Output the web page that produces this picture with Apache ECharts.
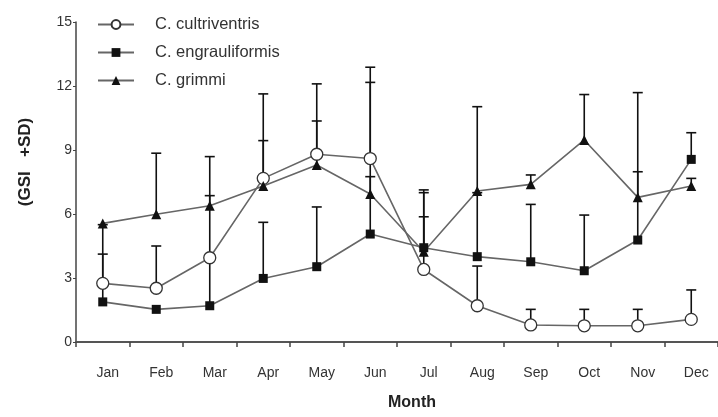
<!DOCTYPE html>
<html><head><meta charset="utf-8">
<script src="https://cdn.jsdelivr.net/npm/echarts@6/dist/echarts.min.js"></script>
<style>html,body{margin:0;padding:0;background:#fff}#c{width:718px;height:417px}</style>
</head><body><div id="c"></div>
<script>
const months = ['Jan','Feb','Mar','Apr','May','Jun','Jul','Aug','Sep','Oct','Nov','Dec'];
const yTicks = [0, 3, 6, 9, 12, 15];
const cultri      = [2.75, 2.52, 3.95, 7.67, 8.8, 8.6, 3.4, 1.7, 0.8, 0.76, 0.76, 1.06];
const cultriUpper = [4.12, 4.5, 6.86, 11.63, 12.1, 12.88, 5.87, 3.56, 1.53, 1.53, 1.53, 2.44];
const engr        = [1.88, 1.53, 1.7, 2.98, 3.53, 5.06, 4.42, 4.0, 3.76, 3.34, 4.78, 8.56];
const engrUpper   = [5.5, null, 3.9, 5.61, 6.33, 12.17, 7.13, 7.0, 6.45, 5.95, 11.69, 9.81];
const grimmi      = [5.56, 5.99, 6.39, 7.31, 8.3, 6.94, 4.23, 7.08, 7.39, 9.47, 6.78, 7.31];
const grimmiUpper = [null, 8.85, 8.69, 9.44, 10.36, 7.75, 7.0, 11.03, 7.83, 11.6, 7.98, 7.67];

const FONT = "'Liberation Sans',Arial,sans-serif";

function errData(vals, ups) {
  const out = [];
  vals.forEach((v, i) => { if (ups[i] != null) out.push([i, v, ups[i]]); });
  return out;
}
function errSeries(vals, ups) {
  return {
    type: 'custom', silent: true, z: 1,
    data: errData(vals, ups),
    renderItem: function (params, api) {
      const x = api.value(0);
      const p0 = api.coord([x, api.value(1)]);
      const p1 = api.coord([x, api.value(2)]);
      const hw = 5;
      return {
        type: 'group',
        children: [
          {type: 'line', shape: {x1: p0[0], y1: p0[1], x2: p1[0], y2: p1[1]}, style: {stroke: '#111', lineWidth: 1.6}},
          {type: 'line', shape: {x1: p1[0]-hw, y1: p1[1], x2: p1[0]+hw, y2: p1[1]}, style: {stroke: '#111', lineWidth: 1.6}}
        ]
      };
    }
  };
}

const chart = echarts.init(document.getElementById('c'));
chart.setOption({
  animation: false,
  grid: {left: 76, right: 0, top: 22, bottom: 75},
  legend: {
    orient: 'vertical', left: 92, top: 11, itemWidth: 36, itemHeight: 11, itemGap: 11,
    textStyle: {fontFamily: FONT, fontSize: 16.5, color: '#333', padding: [0, 0, 0, 16]},
    data: ['C. cultriventris', 'C. engrauliformis', 'C. grimmi']
  },
  xAxis: {
    type: 'category', data: months, boundaryGap: true,
    axisLine: {lineStyle: {color: '#555', width: 2}},
    axisTick: {show: true, length: 5, lineStyle: {color: '#444', width: 1.5}},
    axisLabel: {fontFamily: FONT, fontSize: 14, color: '#333', margin: 24, padding: [0, 0, 0, 10]},
    name: 'Month', nameLocation: 'middle', nameGap: 53,
    nameTextStyle: {fontFamily: FONT, fontSize: 16, fontWeight: 'bold', color: '#222', padding: [0, 0, 0, 30]}
  },
  yAxis: {
    type: 'value', min: 0, max: 15, interval: 3,
    axisLine: {show: true, lineStyle: {color: '#444', width: 1.5}},
    axisTick: {show: true, length: 3, lineStyle: {color: '#444'}},
    splitLine: {show: false},
    axisLabel: {fontFamily: FONT, fontSize: 14, color: '#333', margin: 4,
      formatter: v => yTicks.indexOf(v) >= 0 ? String(v) : ''}
  },
  graphic: [{
    type: 'text', x: 25, y: 162, rotation: Math.PI / 2,
    style: {text: '(GSI   +SD)', fontFamily: FONT, fontSize: 17, fontWeight: 'bold', fill: '#222',
      textAlign: 'center', textVerticalAlign: 'middle'}
  }],
  series: [
    errSeries(cultri, cultriUpper),
    errSeries(engr, engrUpper),
    errSeries(grimmi, grimmiUpper),
    {name: 'C. cultriventris', type: 'line', data: cultri, z: 3,
      symbol: 'circle', symbolSize: 12, showAllSymbol: true,
      lineStyle: {color: '#666', width: 1.6},
      itemStyle: {color: '#fff', borderColor: '#333', borderWidth: 1.3}},
    {name: 'C. engrauliformis', type: 'line', data: engr, z: 3,
      symbol: 'rect', symbolSize: 9, showAllSymbol: true,
      lineStyle: {color: '#666', width: 1.6},
      itemStyle: {color: '#111'}},
    {name: 'C. grimmi', type: 'line', data: grimmi, z: 3,
      symbol: 'triangle', symbolSize: 10, showAllSymbol: true,
      lineStyle: {color: '#666', width: 1.6},
      itemStyle: {color: '#111'}}
  ]
});
</script></body></html>
